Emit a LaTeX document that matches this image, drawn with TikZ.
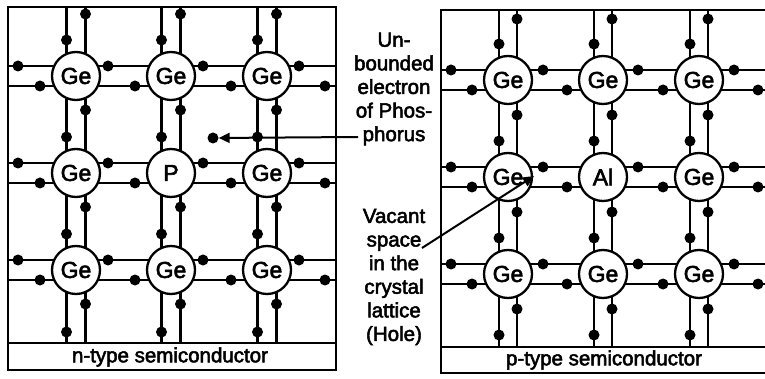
\documentclass[tikz,border=0pt]{standalone}
\usepackage{fontspec}
\setmainfont{Liberation Sans}
\newfontfamily\heavysans[FakeBold=2.5]{Liberation Sans}
\usetikzlibrary{arrows.meta}

\begin{document}
\begin{tikzpicture}[x=1pt,y=-1pt,
  bond/.style={line width=2.2pt},
  frame/.style={line width=2.2pt},
  atom/.style={circle, draw, line width=2.3pt, fill=white, minimum size=48pt,
    inner sep=0pt, font=\heavysans\fontsize{23}{23}\selectfont},
  electron/.style={circle, fill=black, minimum size=11pt, inner sep=0pt},
  caption/.style={font=\heavysans\fontsize{20.5}{23.6}\selectfont, align=center, inner sep=0pt},
  bandtext/.style={font=\heavysans\fontsize{20.5}{20.5}\selectfont, inner sep=0pt},
  pointer/.style={line width=2pt, -{Triangle[length=11pt,width=10pt]}}
]
\clip (0,0) rectangle (765,379);
\fill[white] (0,0) rectangle (765,379);

% ---------- n-type panel ----------
\draw[frame] (8,7) rectangle (336,370);
\draw[frame] (8,343) -- (336,343);
\foreach \r in {76,173,270}{
  \draw[bond] (8,\r-10) -- (336,\r-10) (8,\r+10) -- (336,\r+10);
  \fill (18,\r-10) circle (5.5) (325,\r+10) circle (5.5);
  \foreach \c in {76,171,267}{
    \fill (\c+32,\r-10) circle (5.5) (\c-36,\r+10) circle (5.5);
  }
}
\foreach \c in {76,171,267}{
  \draw[bond] (\c-9.5,7) -- (\c-9.5,343) (\c+9.5,7) -- (\c+9.5,343);
  \fill (\c+9.5,14) circle (5.5) (\c-9.5,332) circle (5.5);
  \foreach \r in {76,173,270}{
    \fill (\c-9.5,\r-36) circle (5.5) (\c+9.5,\r+34) circle (5.5);
  }
}
\node[atom] (n11) at (76,76) {Ge};
\node[atom] (n12) at (171,76) {Ge};
\node[atom] (n13) at (267,76) {Ge};
\node[atom] (n21) at (76,173) {Ge};
\node[atom] (n22) at (171,173) {P};
\node[atom] (n23) at (267,173) {Ge};
\node[atom] (n31) at (76,270) {Ge};
\node[atom] (n32) at (171,270) {Ge};
\node[atom] (n33) at (267,270) {Ge};
\node[electron] (ue) at (213,138) {};
\node[bandtext] (ncap) at (170,357) {n-type semiconductor};

% ---------- p-type panel ----------
\draw[frame] (441,10) rectangle (775,373);
\draw[frame] (441,347) -- (775,347);
\foreach \r in {80,177,274}{
  \draw[bond] (441,\r-10) -- (775,\r-10) (441,\r+10) -- (775,\r+10);
  \fill (451,\r-10) circle (5.5) (758,\r+10) circle (5.5);
  \foreach \c in {508,603,699}{
    \fill (\c+35,\r-10) circle (5.5) (\c-36,\r+10) circle (5.5);
  }
}
\foreach \c in {508,603,699}{
  \draw[bond] (\c-9,10) -- (\c-9,347) (\c+9,10) -- (\c+9,347);
  \fill (\c+9,19) circle (5.5) (\c-9,335) circle (5.5);
  \foreach \r in {80,177,274}{
    \fill (\c-9,\r-36) circle (5.5) (\c+9,\r+35) circle (5.5);
  }
}
\node[atom] (p11) at (508,80) {Ge};
\node[atom] (p12) at (603,80) {Ge};
\node[atom] (p13) at (699,80) {Ge};
\node[atom] (p21) at (508,177) {Ge};
\node[atom] (p22) at (603,177) {Al};
\node[atom] (p23) at (699,177) {Ge};
\node[atom] (p31) at (508,274) {Ge};
\node[atom] (p32) at (603,274) {Ge};
\node[atom] (p33) at (699,274) {Ge};
\node[bandtext] (pcap) at (604,360) {p-type semiconductor};

% ---------- labels and pointers ----------
\node[caption] (unb) at (394,89) {Un-\\bounded\\electron\\of Phos-\\phorus};
\node[caption] (vac) at (394,277) {Vacant\\space\\in the\\crystal\\lattice\\(Hole)};
\coordinate (ntail) at (358,137);
\draw[pointer] (ntail) -- (ue);
\coordinate (vtail) at (422,248);
\coordinate (hole) at (534,176);
\draw[pointer] (vtail) -- (hole);
\end{tikzpicture}
\end{document}
